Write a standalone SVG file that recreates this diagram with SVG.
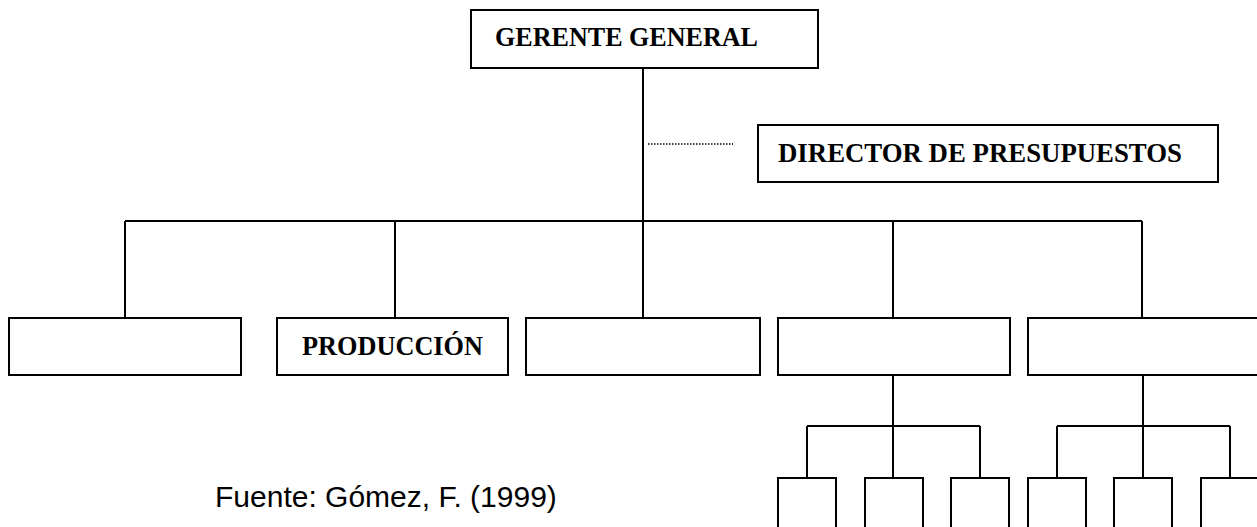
<svg xmlns="http://www.w3.org/2000/svg" width="1257" height="527" viewBox="0 0 1257 527">
<style>
.box{fill:#fff;stroke:#000;stroke-width:2}
.ln{fill:none;stroke:#000;stroke-width:2}
.dot{fill:none;stroke:#000;stroke-width:1.5;stroke-dasharray:1.5 1.5}
.lbl{font-family:"Liberation Serif","Times New Roman",serif;font-weight:bold;font-size:27px;fill:#000}
.src{font-family:"Liberation Sans",Arial,sans-serif;font-size:30px;fill:#000}
</style>
<rect width="1257" height="527" fill="#fff"/>
<g id="connectors">
<path class="ln" d="M643 68V221M125 221H1142M125 221V318M395 221V318M643 221V318M893 221V318M1142 221V318"/>
<path class="dot" d="M648 144H733"/>
<path class="ln" d="M893 375V426M807 426H980M807 426V478M893 426V478M980 426V478"/>
<path class="ln" d="M1143 375V426M1057 426H1230M1057 426V478M1143 426V478M1230 426V478"/>
</g>
<g id="gerente"><rect class="box" x="471" y="10" width="347" height="58"/><text class="lbl" x="495" y="46" textLength="263" lengthAdjust="spacingAndGlyphs">GERENTE GENERAL</text></g>
<g id="director"><rect class="box" x="758" y="125" width="460" height="57"/><text class="lbl" x="778" y="162" textLength="404" lengthAdjust="spacingAndGlyphs">DIRECTOR DE PRESUPUESTOS</text></g>
<g id="b1"><rect class="box" x="9" y="318" width="232" height="57"/></g>
<g id="produccion"><rect class="box" x="277" y="318" width="231" height="57"/><text class="lbl" x="302" y="355" textLength="181" lengthAdjust="spacingAndGlyphs">PRODUCCIÓN</text></g>
<g id="b3"><rect class="box" x="526" y="318" width="234" height="57"/></g>
<g id="b4"><rect class="box" x="778" y="318" width="232" height="57"/></g>
<g id="b5"><rect class="box" x="1028" y="318" width="232" height="57"/></g>
<g id="s1"><rect class="box" x="778" y="478" width="58" height="60"/></g>
<g id="s2"><rect class="box" x="865" y="478" width="58" height="60"/></g>
<g id="s3"><rect class="box" x="951" y="478" width="58" height="60"/></g>
<g id="s4"><rect class="box" x="1028" y="478" width="58" height="60"/></g>
<g id="s5"><rect class="box" x="1114" y="478" width="58" height="60"/></g>
<g id="s6"><rect class="box" x="1201" y="478" width="58" height="60"/></g>
<text class="src" x="215" y="507">Fuente: Gómez, F. (1999)</text>
</svg>
